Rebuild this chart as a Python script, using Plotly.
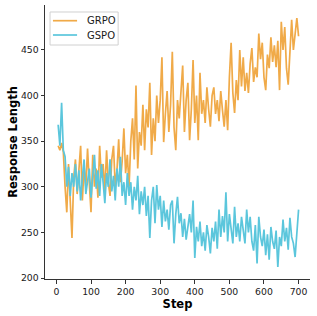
import plotly.graph_objects as go

steps = list(range(5, 705, 5))

grpo = [
    345, 340, 348, 338, 300, 272, 325, 280, 244, 310,
    330, 292, 318, 345, 285, 322, 300, 342, 305, 272,
    335, 300, 320, 288, 345, 310, 325, 295, 340, 305,
    290, 330, 345, 300, 318, 352, 305, 328, 364, 315,
    335, 300, 350, 375, 330, 411, 320, 360, 345, 390,
    340, 385, 365, 414, 335, 375, 350, 400, 370, 395,
    442, 349, 380, 405, 360, 390, 448, 365, 340, 395,
    375, 410, 433, 360, 395, 414, 351, 385, 439, 370,
    400, 351, 425, 380, 395, 370, 409, 385, 366, 400,
    409, 380, 395, 372, 405, 384, 366, 395, 362, 420,
    458, 403, 381, 417, 395, 450, 410, 442, 405, 425,
    403, 435, 452, 415, 431, 420, 468, 440, 458, 420,
    406, 445, 430, 464, 437, 455, 431, 460, 406, 481,
    450, 475, 430, 412, 455, 483, 450, 470, 485, 465,
]

gspo = [
    368, 345, 392, 340, 333, 300, 322, 290, 315, 300,
    325, 295, 318, 285, 310, 330, 292, 305, 320, 288,
    310, 335, 298, 318, 290, 325, 305, 282, 315, 300,
    330, 295, 312, 285, 320, 300, 333, 290, 305, 280,
    315, 290, 305, 275, 300, 285, 312, 270, 295, 280,
    300, 268, 290, 244, 285, 300, 260, 302, 275, 290,
    256, 285, 262, 275, 253, 280, 285, 238, 270, 289,
    260, 271, 245, 265, 242, 258, 270, 250, 285, 222,
    256, 240, 262, 235, 250, 230, 258, 245, 227, 255,
    240, 262, 232, 275, 245, 268, 250, 294, 240, 270,
    255, 238, 278, 245, 260, 240, 267, 250, 238, 275,
    250, 267, 240, 230, 258, 216, 267, 245, 235, 253,
    225, 248, 220, 256, 240, 232, 252, 212, 245, 235,
    264, 240, 255, 231, 266, 245, 238, 223, 250, 275,
]

series_names = ["GRPO", "GSPO"]
x_ticks = [0, 100, 200, 300, 400, 500, 600, 700]
y_ticks = [200, 250, 300, 350, 400, 450]

ORANGE = "#F0AA48"
CYAN = "#5BC6DC"
colors = [ORANGE, CYAN]

fig = go.Figure()
for name, vals, col in zip(series_names, [grpo, gspo], colors):
    fig.add_trace(go.Scatter(x=steps, y=vals, mode="lines", name=name,
                             line=dict(color=col, width=1.7), showlegend=False))

axis_common = dict(
    showgrid=False, zeroline=False, showline=True, linecolor="#333333", linewidth=1,
    ticks="outside", ticklen=3.5, tickwidth=1, tickcolor="#333333",
    tickfont=dict(family="DejaVu Sans", size=9.3, color="#1a1a1a"),
)

# custom legend (box, line samples, labels) in paper coordinates
shapes = [dict(type="rect", xref="paper", yref="paper",
               x0=0.019, x1=0.276, y0=0.854, y1=0.9745,
               line=dict(color="#d0d0d0", width=1), fillcolor="white", layer="above")]
annotations = []
row_y = [0.9427, 0.8905]
for name, col, ry in zip(series_names, colors, row_y):
    shapes.append(dict(type="line", xref="paper", yref="paper",
                       x0=0.030, x1=0.121, y0=ry, y1=ry,
                       line=dict(color=col, width=1.7), layer="above"))
    annotations.append(dict(text=name, xref="paper", yref="paper", x=0.151, y=ry,
                            xanchor="left", yanchor="middle", showarrow=False,
                            font=dict(family="DejaVu Sans", size=10, color="#1a1a1a")))

fig.update_layout(
    width=317, height=316,
    margin=dict(l=45, r=7, t=5, b=37),
    paper_bgcolor="white", plot_bgcolor="white",
    xaxis=dict(range=[-33, 733], tickvals=x_ticks,
               title=dict(text="<b>Step</b>", standoff=4,
                          font=dict(family="DejaVu Sans", size=11.5, color="black")),
               **axis_common),
    yaxis=dict(range=[198.9, 499.3], tickvals=y_ticks,
               title=dict(text="<b>Response Length</b>", standoff=0,
                          font=dict(family="DejaVu Sans", size=11.5, color="black")),
               **axis_common),
    shapes=shapes,
    annotations=annotations,
    showlegend=False,
)

fig.write_html("out.html", config={"displayModeBar": False},
               post_script="document.body.style.margin='0';")
